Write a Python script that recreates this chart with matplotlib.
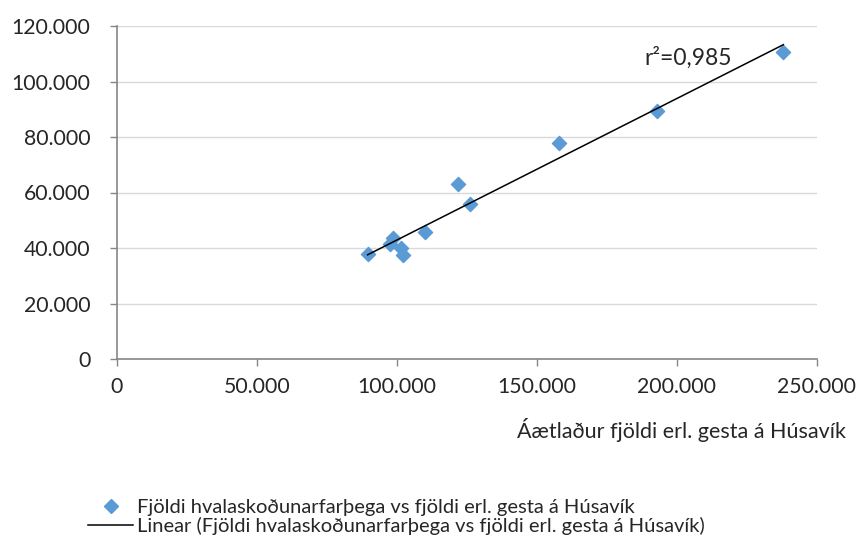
import numpy as np
import matplotlib
matplotlib.use("Agg")
import matplotlib.pyplot as plt
from matplotlib.ticker import FuncFormatter
from matplotlib.lines import Line2D

# Estimated foreign guests in Húsavík vs. whale-watching passengers
guests = [89500, 97500, 98500, 101500, 102000, 110000, 121800, 126000, 158000, 193000, 238000]
passengers = [38000, 41500, 43500, 40000, 37500, 45800, 63000, 55800, 78000, 89500, 110500]

x_ticks = [0, 50000, 100000, 150000, 200000, 250000]
y_ticks = [0, 20000, 40000, 60000, 80000, 100000, 120000]

series_label = "Fjöldi hvalaskoðunarfarþega vs fjöldi erl. gesta á Húsavík"
trend_label = "Linear (Fjöldi hvalaskoðunarfarþega vs fjöldi erl. gesta á Húsavík)"
x_label = "Áætlaður fjöldi erl. gesta á Húsavík"
r2_text = "r²=0,985"

plt.rcParams['font.family'] = ['Lato', 'DejaVu Sans']
text_color = '#262626'
blue = '#5B9BD5'


def thousands(v, pos):
    # Icelandic style: dot as thousands separator
    return f"{int(v):,}".replace(",", ".")


fig = plt.figure(figsize=(8.6, 5.46), dpi=100)
ax = fig.add_axes([117 / 860, 1 - 359 / 546, 700 / 860, 333 / 546])

ax.scatter(guests, passengers, marker='D', s=52, color=blue, zorder=3)

# linear trendline fitted to the points
slope, intercept = np.polyfit(guests, passengers, 1)
xs = np.array([min(guests), max(guests)])
ax.plot(xs, slope * xs + intercept, color='black', lw=1.1, zorder=4)

ax.text(188500, 108500, r2_text, fontsize=16.5, color=text_color, va='center')

ax.set_xlim(0, 250000)
ax.set_ylim(0, 120000)
ax.set_xticks(x_ticks)
ax.set_yticks(y_ticks)
ax.xaxis.set_major_formatter(FuncFormatter(thousands))
ax.yaxis.set_major_formatter(FuncFormatter(thousands))
ax.tick_params(labelsize=15.3, colors='#868686', labelcolor=text_color, length=5, width=1)
ax.tick_params(axis='x', pad=8)
ax.tick_params(axis='y', pad=14)
ax.grid(axis='y', color='#D9D9D9', lw=1)
ax.set_axisbelow(True)
for side in ['top', 'right']:
    ax.spines[side].set_visible(False)
for side in ['left', 'bottom']:
    ax.spines[side].set_color('#868686')
    ax.spines[side].set_linewidth(1.2)

fig.text(846 / 860, 1 - 430 / 546, x_label, ha='right', va='center', fontsize=15.5, color=text_color)

leg_font = 14.5
px = leg_font * 100 / 72
handles = [
    Line2D([], [], ls='none', marker='D', markersize=7, color=blue),
    Line2D([], [], color='black', lw=1.1),
]
fig.legend(handles, [series_label, trend_label], loc='upper left',
           bbox_to_anchor=(88 / 860, 1 - 499 / 546), frameon=False,
           fontsize=leg_font, labelcolor=text_color, handlelength=45 / px,
           handletextpad=4 / px, labelspacing=0.05, borderaxespad=0, borderpad=0)

fig.savefig('out.png', dpi=100)
